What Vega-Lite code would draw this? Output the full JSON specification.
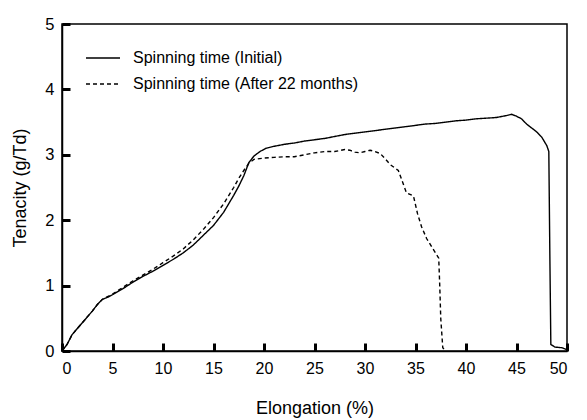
{
  "$schema": "https://vega.github.io/schema/vega-lite/v6.json",
  "autosize": "none",
  "width": 505,
  "height": 327,
  "padding": {"left": 62, "top": 24, "right": 20, "bottom": 69},
  "background": "white",
  "config": {
    "font": "Liberation Sans",
    "view": {"stroke": "black", "strokeWidth": 1.5},
    "axis": {"grid": false, "domainColor": "black", "domainWidth": 1.5, "labelColor": "black", "titleColor": "black", "titleFontWeight": "normal"}
  },
  "data": {"values": [
    {"series": "Spinning time (Initial)", "e": 0, "t": 0},
    {"series": "Spinning time (Initial)", "e": 0.5, "t": 0.1},
    {"series": "Spinning time (Initial)", "e": 1, "t": 0.25},
    {"series": "Spinning time (Initial)", "e": 1.5, "t": 0.34},
    {"series": "Spinning time (Initial)", "e": 2, "t": 0.43},
    {"series": "Spinning time (Initial)", "e": 2.5, "t": 0.52},
    {"series": "Spinning time (Initial)", "e": 3, "t": 0.61},
    {"series": "Spinning time (Initial)", "e": 3.5, "t": 0.71},
    {"series": "Spinning time (Initial)", "e": 4, "t": 0.79},
    {"series": "Spinning time (Initial)", "e": 4.5, "t": 0.82},
    {"series": "Spinning time (Initial)", "e": 5, "t": 0.86},
    {"series": "Spinning time (Initial)", "e": 6, "t": 0.95},
    {"series": "Spinning time (Initial)", "e": 7, "t": 1.05},
    {"series": "Spinning time (Initial)", "e": 8, "t": 1.14},
    {"series": "Spinning time (Initial)", "e": 9, "t": 1.22},
    {"series": "Spinning time (Initial)", "e": 10, "t": 1.31},
    {"series": "Spinning time (Initial)", "e": 11, "t": 1.4},
    {"series": "Spinning time (Initial)", "e": 12, "t": 1.5},
    {"series": "Spinning time (Initial)", "e": 13, "t": 1.62},
    {"series": "Spinning time (Initial)", "e": 14, "t": 1.77},
    {"series": "Spinning time (Initial)", "e": 15, "t": 1.92},
    {"series": "Spinning time (Initial)", "e": 16, "t": 2.12},
    {"series": "Spinning time (Initial)", "e": 17, "t": 2.38},
    {"series": "Spinning time (Initial)", "e": 17.5, "t": 2.52},
    {"series": "Spinning time (Initial)", "e": 18, "t": 2.68},
    {"series": "Spinning time (Initial)", "e": 18.5, "t": 2.88},
    {"series": "Spinning time (Initial)", "e": 19, "t": 2.98},
    {"series": "Spinning time (Initial)", "e": 19.6, "t": 3.05},
    {"series": "Spinning time (Initial)", "e": 20.2, "t": 3.1},
    {"series": "Spinning time (Initial)", "e": 21, "t": 3.13},
    {"series": "Spinning time (Initial)", "e": 22, "t": 3.16},
    {"series": "Spinning time (Initial)", "e": 23, "t": 3.18},
    {"series": "Spinning time (Initial)", "e": 24, "t": 3.21},
    {"series": "Spinning time (Initial)", "e": 25, "t": 3.23},
    {"series": "Spinning time (Initial)", "e": 26, "t": 3.25},
    {"series": "Spinning time (Initial)", "e": 27, "t": 3.28},
    {"series": "Spinning time (Initial)", "e": 28, "t": 3.31},
    {"series": "Spinning time (Initial)", "e": 29, "t": 3.33},
    {"series": "Spinning time (Initial)", "e": 30, "t": 3.35},
    {"series": "Spinning time (Initial)", "e": 31, "t": 3.37},
    {"series": "Spinning time (Initial)", "e": 32, "t": 3.39},
    {"series": "Spinning time (Initial)", "e": 33, "t": 3.41},
    {"series": "Spinning time (Initial)", "e": 34, "t": 3.43},
    {"series": "Spinning time (Initial)", "e": 35, "t": 3.45},
    {"series": "Spinning time (Initial)", "e": 36, "t": 3.47},
    {"series": "Spinning time (Initial)", "e": 37, "t": 3.48},
    {"series": "Spinning time (Initial)", "e": 38, "t": 3.5},
    {"series": "Spinning time (Initial)", "e": 39, "t": 3.52},
    {"series": "Spinning time (Initial)", "e": 40, "t": 3.53},
    {"series": "Spinning time (Initial)", "e": 41, "t": 3.55},
    {"series": "Spinning time (Initial)", "e": 42, "t": 3.56},
    {"series": "Spinning time (Initial)", "e": 43, "t": 3.57},
    {"series": "Spinning time (Initial)", "e": 44, "t": 3.6},
    {"series": "Spinning time (Initial)", "e": 44.5, "t": 3.62},
    {"series": "Spinning time (Initial)", "e": 45, "t": 3.59},
    {"series": "Spinning time (Initial)", "e": 45.5, "t": 3.55},
    {"series": "Spinning time (Initial)", "e": 46, "t": 3.47},
    {"series": "Spinning time (Initial)", "e": 46.5, "t": 3.41},
    {"series": "Spinning time (Initial)", "e": 47, "t": 3.35},
    {"series": "Spinning time (Initial)", "e": 47.5, "t": 3.27},
    {"series": "Spinning time (Initial)", "e": 48, "t": 3.14},
    {"series": "Spinning time (Initial)", "e": 48.2, "t": 3.05},
    {"series": "Spinning time (Initial)", "e": 48.3, "t": 1.5},
    {"series": "Spinning time (Initial)", "e": 48.4, "t": 0.1},
    {"series": "Spinning time (Initial)", "e": 48.8, "t": 0.06},
    {"series": "Spinning time (Initial)", "e": 49.5, "t": 0.05},
    {"series": "Spinning time (Initial)", "e": 50, "t": 0.02},
    {"series": "Spinning time (After 22 months)", "e": 0, "t": 0},
    {"series": "Spinning time (After 22 months)", "e": 0.5, "t": 0.1},
    {"series": "Spinning time (After 22 months)", "e": 1, "t": 0.25},
    {"series": "Spinning time (After 22 months)", "e": 1.5, "t": 0.34},
    {"series": "Spinning time (After 22 months)", "e": 2, "t": 0.43},
    {"series": "Spinning time (After 22 months)", "e": 2.5, "t": 0.52},
    {"series": "Spinning time (After 22 months)", "e": 3, "t": 0.61},
    {"series": "Spinning time (After 22 months)", "e": 3.5, "t": 0.71},
    {"series": "Spinning time (After 22 months)", "e": 4, "t": 0.79},
    {"series": "Spinning time (After 22 months)", "e": 5, "t": 0.87},
    {"series": "Spinning time (After 22 months)", "e": 6, "t": 0.97},
    {"series": "Spinning time (After 22 months)", "e": 7, "t": 1.07},
    {"series": "Spinning time (After 22 months)", "e": 8, "t": 1.16},
    {"series": "Spinning time (After 22 months)", "e": 9, "t": 1.25},
    {"series": "Spinning time (After 22 months)", "e": 10, "t": 1.35},
    {"series": "Spinning time (After 22 months)", "e": 11, "t": 1.45},
    {"series": "Spinning time (After 22 months)", "e": 12, "t": 1.56},
    {"series": "Spinning time (After 22 months)", "e": 13, "t": 1.7},
    {"series": "Spinning time (After 22 months)", "e": 14, "t": 1.86},
    {"series": "Spinning time (After 22 months)", "e": 15, "t": 2.04},
    {"series": "Spinning time (After 22 months)", "e": 16, "t": 2.25},
    {"series": "Spinning time (After 22 months)", "e": 17, "t": 2.5},
    {"series": "Spinning time (After 22 months)", "e": 17.5, "t": 2.64},
    {"series": "Spinning time (After 22 months)", "e": 18, "t": 2.76},
    {"series": "Spinning time (After 22 months)", "e": 18.5, "t": 2.87},
    {"series": "Spinning time (After 22 months)", "e": 19, "t": 2.93},
    {"series": "Spinning time (After 22 months)", "e": 20, "t": 2.95},
    {"series": "Spinning time (After 22 months)", "e": 21, "t": 2.96},
    {"series": "Spinning time (After 22 months)", "e": 22, "t": 2.97},
    {"series": "Spinning time (After 22 months)", "e": 23, "t": 2.97},
    {"series": "Spinning time (After 22 months)", "e": 24, "t": 3.0},
    {"series": "Spinning time (After 22 months)", "e": 25, "t": 3.03},
    {"series": "Spinning time (After 22 months)", "e": 26, "t": 3.05},
    {"series": "Spinning time (After 22 months)", "e": 27, "t": 3.05},
    {"series": "Spinning time (After 22 months)", "e": 28, "t": 3.08},
    {"series": "Spinning time (After 22 months)", "e": 28.5, "t": 3.07},
    {"series": "Spinning time (After 22 months)", "e": 29, "t": 3.04},
    {"series": "Spinning time (After 22 months)", "e": 29.5, "t": 3.03},
    {"series": "Spinning time (After 22 months)", "e": 30, "t": 3.05},
    {"series": "Spinning time (After 22 months)", "e": 30.5, "t": 3.07},
    {"series": "Spinning time (After 22 months)", "e": 31, "t": 3.05},
    {"series": "Spinning time (After 22 months)", "e": 31.5, "t": 3.02},
    {"series": "Spinning time (After 22 months)", "e": 32, "t": 2.94},
    {"series": "Spinning time (After 22 months)", "e": 32.5, "t": 2.85},
    {"series": "Spinning time (After 22 months)", "e": 33.3, "t": 2.76},
    {"series": "Spinning time (After 22 months)", "e": 33.8, "t": 2.55},
    {"series": "Spinning time (After 22 months)", "e": 34.1, "t": 2.42},
    {"series": "Spinning time (After 22 months)", "e": 34.8, "t": 2.37},
    {"series": "Spinning time (After 22 months)", "e": 35.2, "t": 2.1},
    {"series": "Spinning time (After 22 months)", "e": 35.6, "t": 1.9},
    {"series": "Spinning time (After 22 months)", "e": 36.1, "t": 1.72},
    {"series": "Spinning time (After 22 months)", "e": 36.9, "t": 1.52},
    {"series": "Spinning time (After 22 months)", "e": 37.3, "t": 1.42},
    {"series": "Spinning time (After 22 months)", "e": 37.4, "t": 1.0},
    {"series": "Spinning time (After 22 months)", "e": 37.5, "t": 0.5},
    {"series": "Spinning time (After 22 months)", "e": 37.7, "t": 0.05},
    {"series": "Spinning time (After 22 months)", "e": 38, "t": 0.0}
  ]},
  "mark": {"type": "line", "color": "black", "strokeWidth": 1.4, "interpolate": "linear"},
  "encoding": {
    "x": {"field": "e", "type": "quantitative", "title": "Elongation (%)",
      "scale": {"domain": [0, 50], "nice": false, "zero": false},
      "axis": {"tickCount": 10, "ticks": true, "tickSize": -8, "tickColor": "#000000", "tickWidth": 3, "tickOpacity": 1, "zindex": 1, "labelPadding": 17, "labelFontSize": 16, "titleFontSize": 18, "titlePadding": 23}},
    "y": {"field": "t", "type": "quantitative", "title": "Tenacity (g/Td)",
      "scale": {"domain": [0, 5], "nice": false},
      "axis": {"tickCount": 5, "ticks": true, "tickSize": -8, "tickColor": "#000000", "tickWidth": 3, "tickOpacity": 1, "zindex": 1, "labelPadding": 16, "labelFontSize": 16.5, "titleFontSize": 18, "titlePadding": 15}},
    "strokeDash": {"field": "series", "type": "nominal",
      "scale": {"domain": ["Spinning time (Initial)", "Spinning time (After 22 months)"], "range": [[1, 0], [4, 3]]},
      "legend": {"title": null, "orient": "none", "legendX": 23, "legendY": 16, "symbolType": "stroke", "symbolSize": 1156, "symbolStrokeWidth": 1.5, "symbolStrokeColor": "black", "labelFontSize": 16, "labelLimit": 400, "labelColor": "black", "labelOffset": 12, "rowPadding": -1}},
    "order": {"field": "e", "type": "quantitative"}
  }
}
